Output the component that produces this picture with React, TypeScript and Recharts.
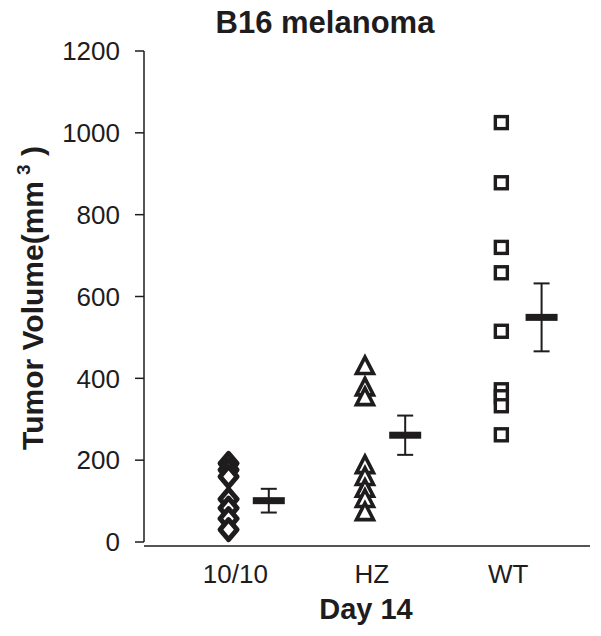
import React from "react";
import { ScatterChart, Scatter, XAxis, YAxis, ErrorBar } from "recharts";

const categories = ["10/10", "HZ", "WT"];
const knockoutVolumes = [192, 176, 160, 105, 83, 57, 30];
const heteroVolumes = [430, 378, 354, 188, 159, 130, 105, 73];
const wildTypeVolumes = [1025, 878, 720, 658, 515, 372, 355, 333, 262];
const groupMeans = [101, 261, 549];
const groupSems = [29, 48, 83];
const yTicks = [0, 200, 400, 600, 800, 1000, 1200];

const INK = "#1e1c1d";
const FONT = "'Liberation Sans', Arial, sans-serif";
const POINT_SHIFT = -0.05;
const MEAN_SHIFT = 0.245;

const toPoints = (values: number[], group: number) =>
  values.map((v) => ({ x: group + 1 + POINT_SHIFT, y: v }));

const knockoutData = toPoints(knockoutVolumes, 0);
const heteroData = toPoints(heteroVolumes, 1);
const wildTypeData = toPoints(wildTypeVolumes, 2);
const meanData = groupMeans.map((m, i) => ({ x: i + 1 + MEAN_SHIFT, y: m, sem: groupSems[i] }));

const Diamond = (props: any) => {
  const { cx, cy } = props;
  return (
    <polygon
      points={`${cx},${cy - 10} ${cx + 8.5},${cy} ${cx},${cy + 10} ${cx - 8.5},${cy}`}
      fill="#fff"
      stroke={INK}
      strokeWidth={5}
      strokeLinejoin="round"
    />
  );
};

const Triangle = (props: any) => {
  const { cx, cy } = props;
  return (
    <polygon
      points={`${cx},${cy - 9} ${cx + 8.5},${cy + 7.5} ${cx - 8.5},${cy + 7.5}`}
      fill="#fff"
      stroke={INK}
      strokeWidth={3.6}
    />
  );
};

const Square = (props: any) => {
  const { cx, cy } = props;
  return <rect x={cx - 6} y={cy - 6} width={12} height={12} fill="#fff" stroke={INK} strokeWidth={3.4} />;
};

const MeanBar = (props: any) => {
  const { cx, cy } = props;
  return <rect x={cx - 16} y={cy - 3.5} width={32} height={7} fill={INK} />;
};

const YTitle = () => (
  <text
    x={35}
    y={290}
    transform="rotate(-90 35 290)"
    textAnchor="middle"
    fontFamily={FONT}
    fontWeight="bold"
    fontSize={30}
    fill={INK}
  >
    Tumor Volume(mm
    <tspan dx={6} dy={-13} fontSize={19}>3</tspan>
    <tspan dy={13}> )</tspan>
  </text>
);

const XTitle = () => (
  <text x={358} y={611} textAnchor="middle" fontFamily={FONT} fontWeight="bold" fontSize={29} fill={INK}>
    Day 14
  </text>
);

export default function App() {
  return (
    <div style={{ position: "relative", width: 590, height: 625, fontFamily: FONT }}>
      <div
        style={{
          position: "absolute",
          top: 0,
          left: 22,
          width: 590,
          textAlign: "center",
          fontWeight: "bold",
          fontSize: 31,
          lineHeight: "30px",
          color: INK,
        }}
      >
        B16 melanoma
      </div>
      <ScatterChart width={590} height={625} margin={{ top: 43, right: 8, bottom: 0, left: 0 }}>
        <XAxis
          type="number"
          dataKey="x"
          domain={[0.33, 3.6]}
          ticks={[1, 2, 3]}
          allowDataOverflow
          tickFormatter={(v: number) => categories[v - 1]}
          tickLine={false}
          tickSize={0}
          tickMargin={23}
          height={91}
          axisLine={{ stroke: INK, strokeWidth: 1.5, transform: "translate(0,4)" }}
          tick={{ fontSize: 26, fill: INK, fontFamily: FONT }}
          label={XTitle}
        />
        <YAxis
          type="number"
          dataKey="y"
          domain={[0, 1200]}
          ticks={yTicks}
          width={136}
          tickSize={9}
          tickMargin={15}
          axisLine={{ stroke: INK, strokeWidth: 1.5 }}
          tickLine={{ stroke: INK, strokeWidth: 1.5 }}
          tick={{ fontSize: 26, fill: INK, fontFamily: FONT }}
          label={YTitle}
        />
        <Scatter data={knockoutData} shape={Diamond} isAnimationActive={false} />
        <Scatter data={heteroData} shape={Triangle} isAnimationActive={false} />
        <Scatter data={wildTypeData} shape={Square} isAnimationActive={false} />
        <Scatter data={meanData} shape={MeanBar} isAnimationActive={false}>
          <ErrorBar dataKey="sem" direction="y" width={8} stroke={INK} strokeWidth={2} isAnimationActive={false} />
        </Scatter>
      </ScatterChart>
    </div>
  );
}
